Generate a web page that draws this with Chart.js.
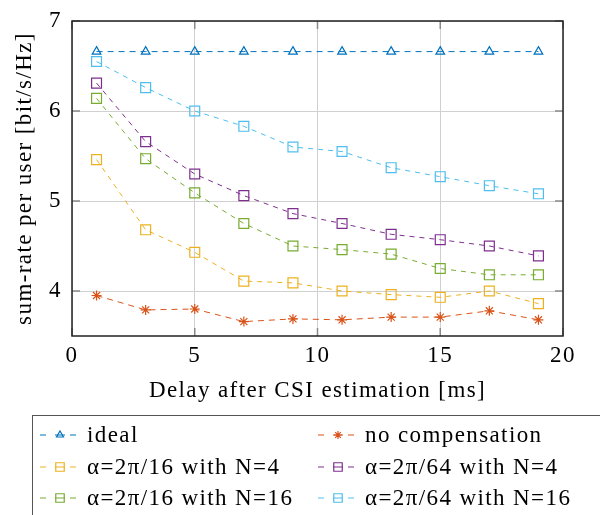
<!DOCTYPE html>
<html>
<head>
<meta charset="utf-8">
<script src="https://cdn.jsdelivr.net/npm/chart.js@4"></script>
<style>
  html, body { margin: 0; padding: 0; background: #fff; }
  #wrap { width: 600px; height: 515px; }
</style>
</head>
<body>
<div id="wrap"><canvas id="myChart"></canvas></div>
<script>
// data
const delays = [1, 3, 5, 7, 9, 11, 13, 15, 17, 19];
const ideal = [6.66, 6.66, 6.66, 6.66, 6.66, 6.66, 6.66, 6.66, 6.66, 6.66];
const noComp = [3.95, 3.79, 3.80, 3.66, 3.69, 3.68, 3.71, 3.71, 3.78, 3.68];
const a16n4 = [5.46, 4.68, 4.43, 4.11, 4.09, 4.00, 3.96, 3.93, 4.00, 3.86];
const a64n4 = [6.31, 5.66, 5.30, 5.06, 4.86, 4.75, 4.63, 4.57, 4.50, 4.39];
const a16n16 = [6.14, 5.47, 5.09, 4.75, 4.50, 4.46, 4.41, 4.25, 4.18, 4.18];
const a64n16 = [6.55, 6.26, 6.00, 5.83, 5.60, 5.55, 5.37, 5.27, 5.17, 5.08];
const xTicks = [0, 5, 10, 15, 20];
const yTicks = [4, 5, 6, 7];

const serif = "'Liberation Serif', 'DejaVu Serif', serif";
const spacing = '1.4px';

function makeSet(label, values, color, shape, radius, dash) {
  return {
    label: label,
    data: delays.map((d, i) => ({ x: d, y: values[i] })),
    borderColor: color,
    backgroundColor: color,
    pointBackgroundColor: 'rgba(255,255,255,0)',
    pointBorderColor: color,
    pointStyle: shape,
    pointRadius: radius,
    pointBorderWidth: 1.2,
    borderWidth: 1,
    borderDash: dash,
    fill: false,
    tension: 0
  };
}

const datasets = [
  makeSet('ideal', ideal, '#0072BD', 'triangle', 5, [6, 5]),
  makeSet('no compensation', noComp, '#D95319', 'star', 5, [6, 5]),
  makeSet('α=2π/16 with N=4', a16n4, '#EDB120', 'rect', 7, [5, 5]),
  makeSet('α=2π/64 with N=4', a64n4, '#7E2F8E', 'rect', 7, [5, 5]),
  makeSet('α=2π/16 with N=16', a16n16, '#77AC30', 'rect', 7, [5, 5]),
  makeSet('α=2π/64 with N=16', a64n16, '#4DBEEE', 'rect', 7, [5, 5])
];

// frame, inner tick marks and the 2-column legend box
const framePlugin = {
  id: 'framePlugin',
  beforeDraw(chart) {
    // a little wider text, closer to the LaTeX look
    chart.ctx.letterSpacing = spacing;
  },
  beforeDatasetsDraw(chart) {
    const ctx = chart.ctx;
    const a = chart.chartArea;
    const xs = chart.scales.x, ys = chart.scales.y;
    ctx.save();
    ctx.strokeStyle = '#8a8a8a';
    ctx.lineWidth = 1.5;
    xTicks.forEach(function (t) {
      const px = xs.getPixelForValue(t);
      ctx.beginPath();
      ctx.moveTo(px, a.bottom); ctx.lineTo(px, a.bottom - 8);
      ctx.moveTo(px, a.top); ctx.lineTo(px, a.top + 8);
      ctx.stroke();
    });
    yTicks.forEach(function (t) {
      const py = ys.getPixelForValue(t);
      ctx.beginPath();
      ctx.moveTo(a.left, py); ctx.lineTo(a.left + 8, py);
      ctx.moveTo(a.right, py); ctx.lineTo(a.right - 8, py);
      ctx.stroke();
    });
    ctx.strokeStyle = '#222';
    ctx.lineWidth = 1.5;
    ctx.strokeRect(a.left, a.top, a.right - a.left, a.bottom - a.top);
    ctx.restore();
  },
  afterDraw(chart) {
    const ctx = chart.ctx;
    ctx.save();
    ctx.letterSpacing = spacing;
    ctx.strokeStyle = '#555';
    ctx.lineWidth = 1;
    ctx.strokeRect(32.5, 415.5, 600, 120);
    ctx.font = '23px ' + serif;
    ctx.textBaseline = 'middle';
    const colX = [60, 338];
    const rowY = [435, 467, 498];
    chart.data.datasets.forEach(function (ds, i) {
      const cx = colX[i % 2];
      const cy = rowY[Math.floor(i / 2)];
      ctx.strokeStyle = ds.borderColor;
      ctx.lineWidth = 1;
      ctx.beginPath();
      ctx.moveTo(cx - 20, cy); ctx.lineTo(cx - 14, cy);
      ctx.moveTo(cx - 5, cy); ctx.lineTo(cx + 5, cy);
      ctx.moveTo(cx + 10, cy); ctx.lineTo(cx + 16, cy);
      ctx.stroke();
      ctx.fillStyle = 'rgba(255,255,255,0)';
      ctx.lineWidth = 1.2;
      Chart.helpers.drawPoint(ctx, {
        pointStyle: ds.pointStyle,
        radius: ds.pointStyle === 'rect' ? 6 : 4,
        rotation: 0,
        borderWidth: 1.2
      }, cx, cy);
      ctx.fillStyle = '#000';
      ctx.fillText(ds.label, cx + 27, cy + 1);
    });
    ctx.restore();
  }
};

const ctx = document.getElementById('myChart');

new Chart(ctx, {
  type: 'line',
  data: { datasets: datasets },
  options: {
    responsive: true,
    maintainAspectRatio: false,
    animation: false,
    layout: { padding: { top: 21, right: 37, left: 0, bottom: 110 } },
    plugins: {
      legend: { display: false },
      tooltip: { enabled: false }
    },
    scales: {
      x: {
        type: 'linear',
        min: 0,
        max: 20,
        afterBuildTicks: function (s) { s.ticks = xTicks.map(v => ({ value: v })); },
        afterFit: function (s) { s.height = 69; s.paddingLeft = 0; s.paddingRight = 0; },
        grid: { color: '#d0d0d0', lineWidth: 1, drawTicks: false },
        border: { display: false },
        ticks: { color: '#000', font: { family: serif, size: 23 }, padding: 6, maxRotation: 0 },
        title: {
          display: true,
          text: 'Delay after CSI estimation [ms]',
          color: '#000',
          font: { family: serif, size: 23 },
          padding: { top: 2, bottom: 0 }
        }
      },
      y: {
        type: 'linear',
        min: 3.5,
        max: 7,
        afterBuildTicks: function (s) { s.ticks = yTicks.map(v => ({ value: v })); },
        afterFit: function (s) { s.width = 72; s.paddingTop = 0; s.paddingBottom = 0; },
        grid: { color: '#d0d0d0', lineWidth: 1, drawTicks: false },
        border: { display: false },
        ticks: { color: '#000', font: { family: serif, size: 23 }, padding: 10 },
        title: {
          display: true,
          text: 'sum-rate per user [bit/s/Hz]',
          color: '#000',
          font: { family: serif, size: 23 },
          padding: { top: 11, bottom: 0 }
        }
      }
    }
  },
  plugins: [framePlugin]
});
</script>
</body>
</html>
